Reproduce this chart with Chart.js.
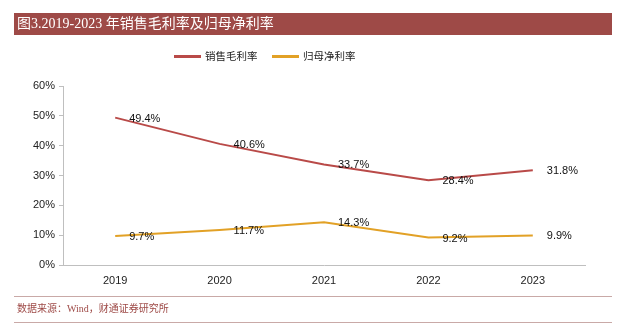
<!DOCTYPE html>
<html>
<head>
<meta charset="utf-8">
<script src="https://cdn.jsdelivr.net/npm/chart.js@4/dist/chart.umd.min.js"></script>
<style>
  html, body { margin: 0; padding: 0; background: #fff; }
  #wrap { position: relative; width: 623px; height: 330px; }
</style>
</head>
<body>
<div id="wrap"><canvas id="c" width="623" height="330"></canvas></div>
<script>
const years = ['2019', '2020', '2021', '2022', '2023'];
const grossMargin = [49.4, 40.6, 33.7, 28.4, 31.8];
const netMargin = [9.7, 11.7, 14.3, 9.2, 9.9];
const seriesNames = ['销售毛利率', '归母净利率'];
const yTicks = [0, 10, 20, 30, 40, 50, 60];

const titleText = '图3.2019-2023 年销售毛利率及归母净利率';
const sourceText = '数据来源：Wind，财通证券研究所';
const brand = '#9E4A47';

const pageDecor = {
  id: 'pageDecor',
  beforeDraw(chart) {
    const ctx = chart.ctx;
    ctx.save();
    ctx.fillStyle = '#fff';
    ctx.fillRect(0, 0, chart.width, chart.height);
    // header bar
    ctx.fillStyle = brand;
    ctx.fillRect(14, 13, 598, 22);
    ctx.fillStyle = '#fff';
    ctx.font = '14px "Liberation Serif", "Noto Sans CJK SC", serif';
    ctx.textBaseline = 'middle';
    ctx.textAlign = 'left';
    ctx.fillText(titleText, 17, 24.5);
    // footer rules and source
    ctx.strokeStyle = '#C9A9A7';
    ctx.lineWidth = 1;
    ctx.beginPath();
    ctx.moveTo(14, 296.5); ctx.lineTo(612, 296.5);
    ctx.moveTo(14, 322.5); ctx.lineTo(612, 322.5);
    ctx.stroke();
    ctx.fillStyle = brand;
    ctx.font = '10px "Liberation Serif", "Noto Sans CJK SC", serif';
    ctx.fillText(sourceText, 17, 309);
    // legend
    ctx.font = '10.5px "Noto Sans CJK SC", sans-serif';
    const legendX = [174, 272];
    chart.data.datasets.forEach((ds, i) => {
      const x = legendX[i];
      ctx.strokeStyle = ds.borderColor;
      ctx.lineWidth = 3;
      ctx.beginPath();
      ctx.moveTo(x, 56.5); ctx.lineTo(x + 27, 56.5);
      ctx.stroke();
      ctx.fillStyle = '#222';
      ctx.fillText(ds.label, x + 31, 56.5);
    });
    ctx.restore();
  }
};

const valueLabels = {
  id: 'valueLabels',
  afterDatasetsDraw(chart) {
    const ctx = chart.ctx;
    ctx.save();
    ctx.font = '11px "Liberation Sans", Arial, sans-serif';
    ctx.fillStyle = '#111';
    ctx.textAlign = 'left';
    ctx.textBaseline = 'middle';
    chart.data.datasets.forEach((ds, i) => {
      const meta = chart.getDatasetMeta(i);
      meta.data.forEach((pt, j) => {
        ctx.fillText(ds.data[j].toFixed(1) + '%', pt.x + 14, pt.y + 1);
      });
    });
    ctx.restore();
  }
};

new Chart(document.getElementById('c'), {
  type: 'line',
  data: {
    labels: years,
    datasets: [
      { label: seriesNames[0], data: grossMargin, borderColor: '#B94A48', backgroundColor: '#B94A48', borderWidth: 2, pointRadius: 0, tension: 0 },
      { label: seriesNames[1], data: netMargin, borderColor: '#E2A126', backgroundColor: '#E2A126', borderWidth: 2, pointRadius: 0, tension: 0 }
    ]
  },
  options: {
    responsive: false,
    animation: false,
    devicePixelRatio: 1,
    layout: { padding: { top: 86, right: 38, bottom: 35, left: 0 } },
    plugins: { legend: { display: false }, tooltip: { enabled: false } },
    scales: {
      x: {
        offset: true,
        grid: { drawOnChartArea: false, drawTicks: false, color: '#BFBFBF' },
        border: { display: true, color: '#BFBFBF', width: 1 },
        ticks: { padding: 9, color: '#222', font: { family: '"Liberation Sans", Arial, sans-serif', size: 11 } },
        afterFit(scale) { scale.height = 30; }
      },
      y: {
        min: 0, max: 60,
        afterBuildTicks(scale) { scale.ticks = yTicks.map(v => ({ value: v })); },
        grid: { drawOnChartArea: false, drawTicks: true, tickLength: 4, color: '#BFBFBF' },
        border: { display: true, color: '#BFBFBF', width: 1 },
        ticks: { padding: 4, color: '#222', font: { family: '"Liberation Sans", Arial, sans-serif', size: 11 }, callback: v => v + '%' },
        afterFit(scale) { scale.width = 63; }
      }
    }
  },
  plugins: [pageDecor, valueLabels]
});
</script>
</body>
</html>
